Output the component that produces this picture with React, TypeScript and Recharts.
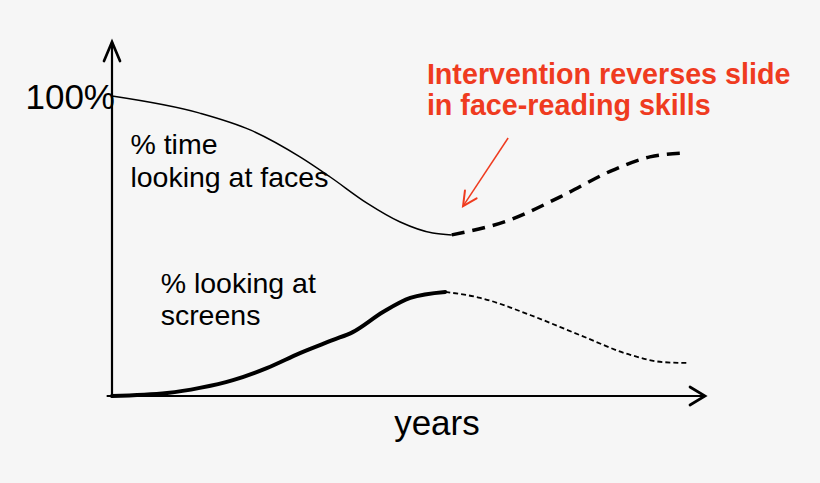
import { LineChart, Line, XAxis, YAxis, ReferenceLine, ReferenceDot } from "recharts";

// x = years (0-100 scale), v = percent
const facesSolidX = [0, 14.8, 23.3, 31.7, 36.8, 43.0, 48.6, 54.1, 57.3];
const facesSolidV = [100, 94.3, 88.7, 79.7, 73.0, 64.3, 58.0, 54.3, 53.7];
const facesDashX = [57.3, 67.1, 75.5, 84.5, 90.7, 96.3];
const facesDashV = [53.7, 58.7, 66.3, 75.3, 79.7, 81.0];
const screensSolidX = [0, 9.3, 14.8, 20.4, 26.1, 31.7, 37.3, 40.6, 45.7, 50.3, 56.2];
const screensSolidV = [0, 1.0, 2.7, 5.3, 9.3, 14.3, 18.7, 21.3, 28.0, 32.7, 34.7];
const screensDashX = [56.2, 62.1, 70.5, 78.9, 87.4, 92.9, 97.1];
const screensDashV = [34.7, 32.7, 27.0, 20.3, 13.7, 11.3, 11.0];
const topLabel = 100;

const FONT = "'Liberation Sans', Arial, Helvetica, sans-serif";
const RED = "#ef3b1f";

const toPoints = (xs: number[], vs: number[]) => xs.map((x, i) => ({ x, v: vs[i] }));

const facesSolid = toPoints(facesSolidX, facesSolidV);
const facesDash = toPoints(facesDashX, facesDashV);
const screensSolid = toPoints(screensSolidX, screensSolidV);
const screensDash = toPoints(screensDashX, screensDashV);

function arrowShape(len: number, half: number, color: string, width: number) {
  return (props: any) => {
    const { x1, y1, x2, y2 } = props;
    const a = Math.atan2(y2 - y1, x2 - x1);
    const bx = x2 - len * Math.cos(a);
    const by = y2 - len * Math.sin(a);
    const px = -Math.sin(a) * half;
    const py = Math.cos(a) * half;
    return (
      <g>
        <line x1={x1} y1={y1} x2={x2} y2={y2} stroke={color} strokeWidth={width} />
        <polyline
          points={`${bx + px},${by + py} ${x2},${y2} ${bx - px},${by - py}`}
          fill="none"
          stroke={color}
          strokeWidth={width + 0.5}
          strokeLinecap="round"
        />
      </g>
    );
  };
}

function textShape(
  lines: string[],
  opts: { size: number; color?: string; bold?: boolean; anchor?: string; gap: number; dx?: number; dy?: number }
) {
  return (props: any) => {
    const cx = props.cx + (opts.dx || 0);
    const cy = props.cy + (opts.dy || 0);
    return (
      <text
        x={cx}
        y={cy}
        fontFamily={FONT}
        fontSize={opts.size}
        fontWeight={opts.bold ? "bold" : "normal"}
        fill={opts.color || "#000"}
        textAnchor={opts.anchor || "start"}
      >
        {lines.map((l, i) => (
          <tspan key={i} x={cx} dy={i === 0 ? 0 : opts.gap}>
            {l}
          </tspan>
        ))}
      </text>
    );
  };
}

export default function App() {
  return (
    <div style={{ position: "fixed", left: 0, top: 0, width: 820, height: 483, background: "#f6f6f6" }}>
      <LineChart width={820} height={483} margin={{ top: 42, right: 115, bottom: 87, left: 112 }}>
        <XAxis type="number" dataKey="x" domain={[0, 100]} hide />
        <YAxis type="number" domain={[0, 118]} hide />
        <ReferenceLine
          segment={[{ x: 0, y: -0.6 }, { x: 0, y: 118 }]}
          ifOverflow="visible"
          shape={arrowShape(19, 8, "#000", 2.2)}
        />
        <ReferenceLine
          segment={[{ x: -0.9, y: 0 }, { x: 100, y: 0 }]}
          ifOverflow="visible"
          shape={arrowShape(15, 9, "#000", 2.2)}
        />
        <Line data={facesSolid} dataKey="v" type="monotone" stroke="#000" strokeWidth={1.5} dot={false} isAnimationActive={false} />
        <Line data={facesDash} dataKey="v" type="monotone" stroke="#000" strokeWidth={3.5} strokeDasharray="13 8" dot={false} isAnimationActive={false} />
        <Line data={screensSolid} dataKey="v" type="monotone" stroke="#000" strokeWidth={4} strokeLinecap="round" dot={false} isAnimationActive={false} />
        <Line data={screensDash} dataKey="v" type="monotone" stroke="#000" strokeWidth={1.8} strokeDasharray="5 3" dot={false} isAnimationActive={false} />
        <ReferenceLine
          segment={[{ x: 66.8, y: 86 }, { x: 59.2, y: 63.3 }]}
          ifOverflow="visible"
          shape={arrowShape(14, 7, RED, 1.5)}
        />
        <ReferenceDot
          x={0}
          y={topLabel}
          r={0}
          ifOverflow="visible"
          shape={textShape([`${topLabel}%`], { size: 35, anchor: "end", gap: 0, dx: 3, dy: 13 })}
        />
        <ReferenceDot x={3.1} y={80.7} r={0} ifOverflow="visible" shape={textShape(["% time", "looking at faces"], { size: 28.5, gap: 33 })} />
        <ReferenceDot x={8.2} y={34.3} r={0} ifOverflow="visible" shape={textShape(["% looking at", "screens"], { size: 28.5, gap: 32 })} />
        <ReferenceDot x={54.8} y={-13} r={0} ifOverflow="visible" shape={textShape(["years"], { size: 35, anchor: "middle", gap: 0 })} />
        <ReferenceDot
          x={53.1}
          y={104}
          r={0}
          ifOverflow="visible"
          shape={textShape(["Intervention reverses slide", "in face-reading skills"], { size: 28.7, bold: true, color: RED, gap: 31 })}
        />
      </LineChart>
    </div>
  );
}
